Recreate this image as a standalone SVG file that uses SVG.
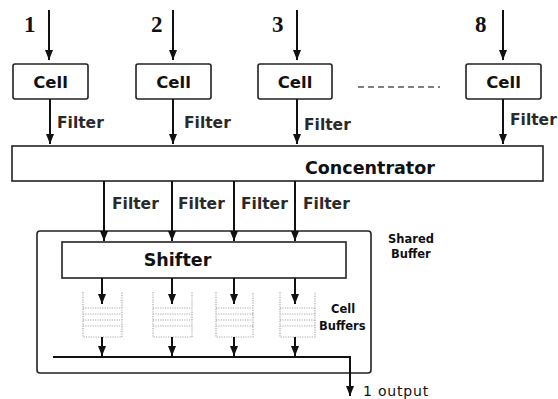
<svg xmlns="http://www.w3.org/2000/svg" width="558" height="399" viewBox="0 0 558 399">
<defs>
<marker id="arr" markerUnits="userSpaceOnUse" markerWidth="10" markerHeight="8" viewBox="0 0 10 8" refX="10" refY="4" orient="auto">
<path d="M0,0 L10,4 L0,8 Z" fill="#111"/>
</marker>
<style>
.box{fill:#fff;stroke:#222;stroke-width:1.6}
.cn{fill:none;stroke:#111;stroke-width:2;marker-end:url(#arr)}
.ln{fill:none;stroke:#111;stroke-width:2}
.buf{fill:none;stroke:#a8a8a8;stroke-width:1.2;stroke-dasharray:1.2 1.2}
.cell{font-family:"DejaVu Sans",Verdana,sans-serif;font-weight:bold;font-size:16.5px;fill:#111;text-anchor:middle}
.flt{font-family:"DejaVu Sans",Verdana,sans-serif;font-weight:bold;font-size:15.5px;fill:#2a2a2a}
.big{font-family:"DejaVu Sans",Verdana,sans-serif;font-weight:bold;font-size:17.5px;fill:#111}
.sm{font-family:"DejaVu Sans",Verdana,sans-serif;font-weight:bold;font-size:11.5px;fill:#111}
.num{font-family:"Liberation Serif","Times New Roman",serif;font-weight:bold;font-size:23px;fill:#111}
.out{font-family:"DejaVu Sans",Verdana,sans-serif;font-size:14px;letter-spacing:0.8px;fill:#111}
</style>
</defs>
<rect width="558" height="399" fill="#fff"/>

<g id="shared-buffer">
<rect class="box" x="37" y="231" width="334" height="142" rx="3"/>
<text class="sm" x="388" y="243">Shared</text>
<text class="sm" x="391" y="258">Buffer</text>
</g>

<g id="input-1"><text class="num" x="24" y="32">1</text></g>
<g id="input-2"><text class="num" x="151" y="32">2</text></g>
<g id="input-3"><text class="num" x="272" y="32">3</text></g>
<g id="input-8"><text class="num" x="475" y="32">8</text></g>

<g id="cell-1"><rect class="box" x="13" y="64" width="75" height="35" rx="2"/><text class="cell" x="50.5" y="88">Cell</text></g>
<g id="cell-2"><rect class="box" x="136" y="64" width="75" height="35" rx="2"/><text class="cell" x="173.5" y="88">Cell</text></g>
<g id="cell-3"><rect class="box" x="258" y="64" width="74" height="35" rx="2"/><text class="cell" x="295" y="88">Cell</text></g>
<g id="cell-8"><rect class="box" x="466" y="64" width="75" height="35" rx="2"/><text class="cell" x="503.5" y="88">Cell</text></g>
<g id="ellipsis"><line x1="358" y1="87" x2="440" y2="87" stroke="#555" stroke-width="1.5" stroke-dasharray="6 4"/></g>

<g id="concentrator">
<rect class="box" x="12" y="146" width="531" height="35" fill="#fbfbfb"/>
<text class="big" x="305" y="174">Concentrator</text>
</g>

<g id="shifter">
<rect class="box" x="62" y="242" width="284" height="36"/>
<text class="big" x="177.5" y="266" text-anchor="middle">Shifter</text>
</g>

<g id="cell-buffers">
<g id="buffer-1" transform="translate(83,0)">
<path class="buf" d="M0,292 V337 H39 V292 M0,308 H39 M0,314 H39 M0,320 H39 M0,326 H39"/>
</g>
<g id="buffer-2" transform="translate(153,0)">
<path class="buf" d="M0,292 V337 H39 V292 M0,308 H39 M0,314 H39 M0,320 H39 M0,326 H39"/>
</g>
<g id="buffer-3" transform="translate(216,0)">
<path class="buf" d="M0,292 V337 H37 V292 M0,308 H37 M0,314 H37 M0,320 H37 M0,326 H37"/>
</g>
<g id="buffer-4" transform="translate(280,0)">
<path class="buf" d="M0,292 V337 H35 V292 M0,308 H35 M0,314 H35 M0,320 H35 M0,326 H35"/>
</g>
<text class="sm" x="331" y="313">Cell</text>
<text class="sm" x="319" y="330">Buffers</text>
</g>

<g id="connectors">
<line class="cn" x1="49" y1="10" x2="49" y2="60"/>
<line class="cn" x1="173" y1="10" x2="173" y2="60"/>
<line class="cn" x1="297" y1="10" x2="297" y2="60"/>
<line class="cn" x1="503" y1="10" x2="503" y2="60"/>

<line class="cn" x1="50" y1="99" x2="50" y2="144"/>
<line class="cn" x1="173" y1="99" x2="173" y2="144"/>
<line class="cn" x1="297" y1="99" x2="297" y2="144"/>
<line class="cn" x1="503" y1="99" x2="503" y2="144"/>
<text class="flt" x="57" y="128">Filter</text>
<text class="flt" x="184" y="128">Filter</text>
<text class="flt" x="304" y="130">Filter</text>
<text class="flt" x="510" y="125">Filter</text>

<line class="cn" x1="104" y1="181" x2="104" y2="241"/>
<line class="cn" x1="172" y1="181" x2="172" y2="241"/>
<line class="cn" x1="234" y1="181" x2="234" y2="241"/>
<line class="cn" x1="295" y1="181" x2="295" y2="241"/>
<text class="flt" x="112" y="209">Filter</text>
<text class="flt" x="178" y="209">Filter</text>
<text class="flt" x="241" y="209">Filter</text>
<text class="flt" x="303" y="209">Filter</text>

<line class="cn" x1="102" y1="278" x2="102" y2="304"/>
<line class="cn" x1="172" y1="278" x2="172" y2="304"/>
<line class="cn" x1="234" y1="278" x2="234" y2="304"/>
<line class="cn" x1="295" y1="278" x2="295" y2="304"/>

<line class="cn" x1="102" y1="337" x2="102" y2="356"/>
<line class="cn" x1="172" y1="337" x2="172" y2="356"/>
<line class="cn" x1="234" y1="337" x2="234" y2="356"/>
<line class="cn" x1="295" y1="337" x2="295" y2="356"/>

<line class="ln" x1="53" y1="357" x2="351" y2="357"/>
<path class="cn" d="M350,357 V396"/>
<text class="out" x="363" y="396">1 output</text>
</g>
</svg>
